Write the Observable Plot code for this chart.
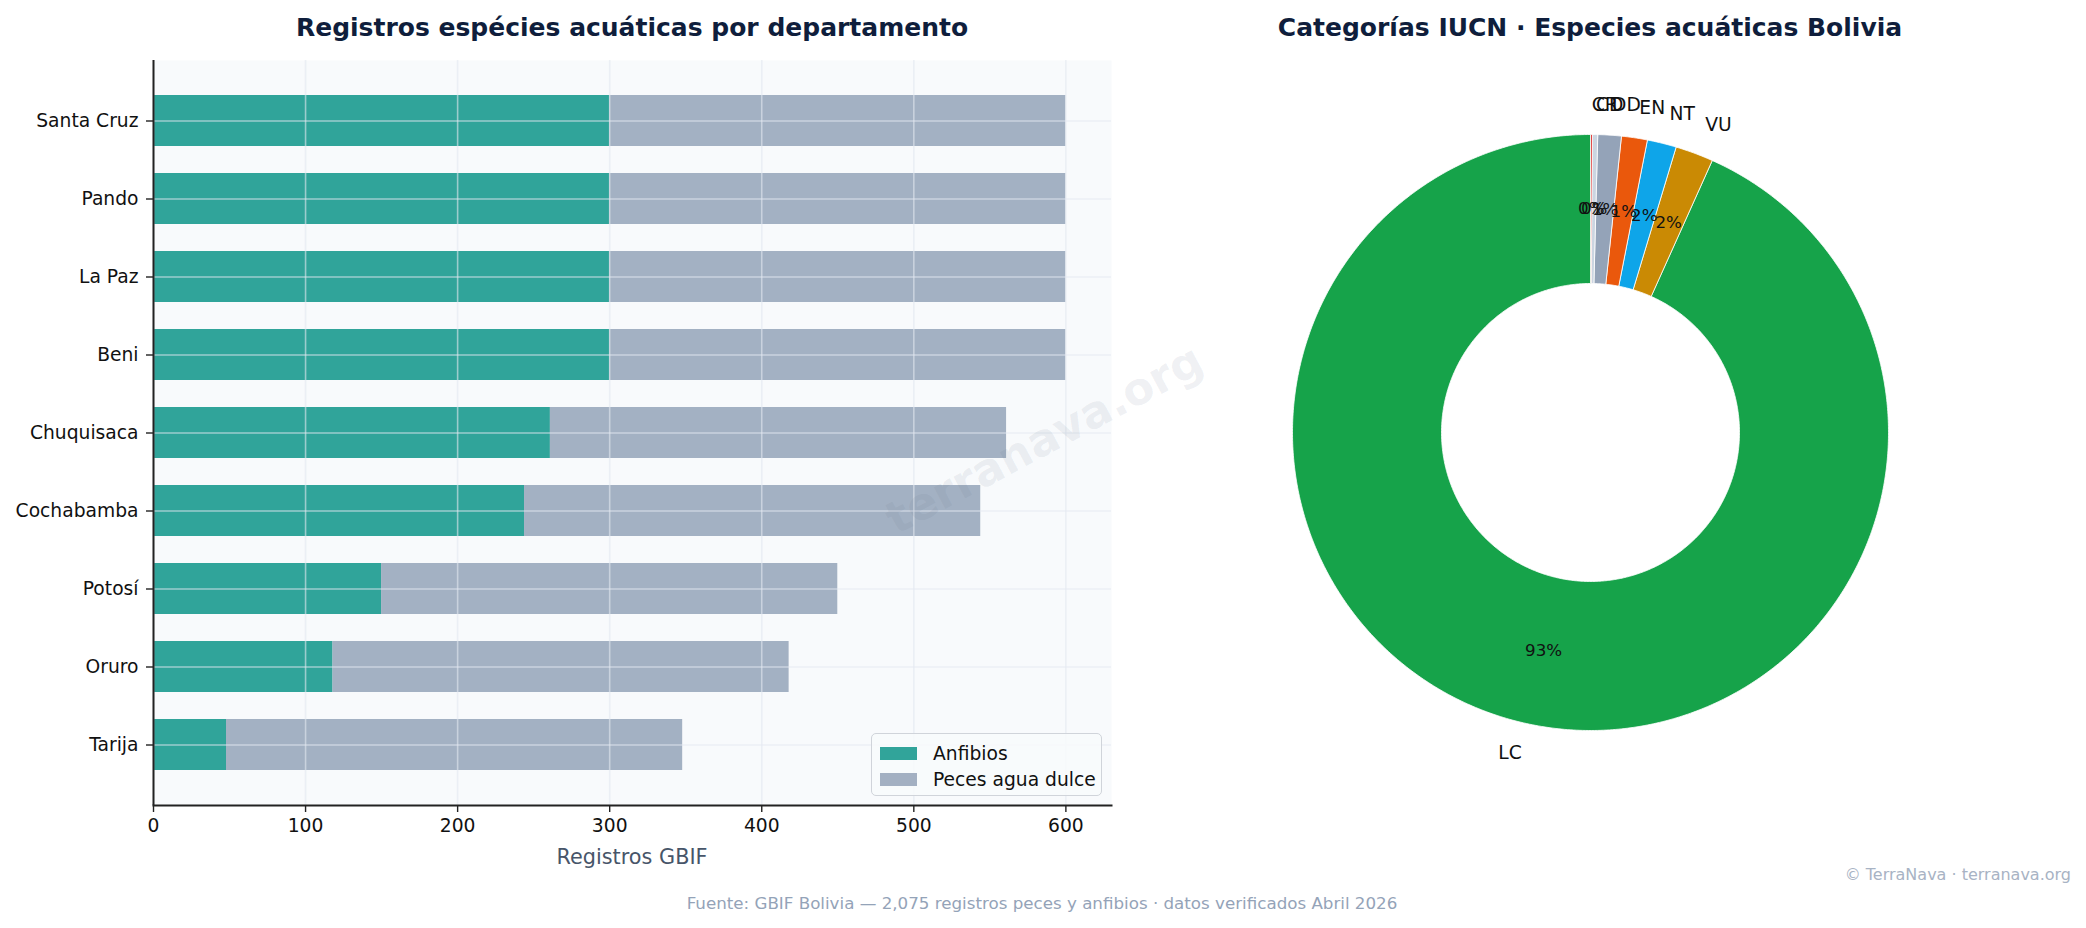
<!DOCTYPE html>
<html>
<head>
<meta charset="utf-8">
<script src="https://cdn.jsdelivr.net/npm/d3@7"></script>
<script src="https://cdn.jsdelivr.net/npm/@observablehq/plot@0.6"></script>
<style>
  html, body { margin: 0; padding: 0; background: #ffffff; }
  body { width: 2086px; height: 928px; position: relative; overflow: hidden; font-family: "DejaVu Sans", sans-serif; }
  .abs { position: absolute; white-space: nowrap; }
  .title { font-weight: bold; font-size: 25px; color: #0f1e3c; transform: translate(-50%, -50%); }
  #left { position: absolute; left: 0; top: 0; }
  #right { position: absolute; left: 1200px; top: 50px; }
  .legend { position: absolute; left: 871px; top: 733px; width: 229px; height: 61px; border: 1.5px solid #d0d4da; border-radius: 5px; background: rgba(248,250,252,0.85); font-size: 18.7px; color: #111; }
  .legend .row { position: absolute; left: 8px; height: 20px; display: flex; align-items: center; }
  .legend .sw { width: 37px; height: 13px; margin-right: 16px; }
</style>
</head>
<body>
<script>
// ---------- Data ----------
const departamentos = ["Santa Cruz", "Pando", "La Paz", "Beni", "Chuquisaca", "Cochabamba", "Potosí", "Oruro", "Tarija"];
const anfibios = [300, 300, 300, 300, 261, 244, 150, 118, 48];
const peces = [300, 300, 300, 300, 300, 300, 300, 300, 300];
const series = ["Anfibios", "Peces agua dulce"];
const xTicks = [0, 100, 200, 300, 400, 500, 600];

const categorias = ["CR", "CD", "DD", "EN", "NT", "VU", "LC"];
const porcentajes = [0.12, 0.29, 1.27, 1.40, 1.58, 2.06, 93.28];

// ---------- Left: stacked bars ----------
const rows = departamentos.flatMap((d, i) => [
  {dep: d, serie: series[0], value: anfibios[i]},
  {dep: d, serie: series[1], value: peces[i]}
]);

const left = Plot.plot({
  width: 1130,
  height: 900,
  marginLeft: 153,
  marginRight: 19,
  marginTop: 60,
  marginBottom: 95,
  style: {fontFamily: "DejaVu Sans", fontSize: "18.7px", color: "#111", background: "transparent"},
  x: {domain: [0, 630], ticks: xTicks, label: null},
  y: {domain: departamentos, paddingInner: 0.35, paddingOuter: 0.432, label: null},
  color: {domain: series, range: ["#0d9488", "#94a3b8"]},
  marks: [
    Plot.frame({fill: "#f8fafc", stroke: null}),
    Plot.barX(rows, Plot.stackX({y: "dep", x: "value", fill: "serie", fillOpacity: 0.85, order: series})),
    Plot.gridX({ticks: xTicks, stroke: "#e2e8f0", strokeOpacity: 0.6, strokeWidth: 1.6}),
    Plot.gridY({stroke: "#e2e8f0", strokeOpacity: 0.6, strokeWidth: 1.6}),
    Plot.axisX({ticks: xTicks, tickSize: 7, tickPadding: 6, stroke: "#222", strokeWidth: 1.4, label: null}),
    Plot.axisY({tickSize: 7, tickPadding: 8, stroke: "#222", strokeWidth: 1.4, label: null}),
    Plot.ruleX([0], {stroke: "#222", strokeWidth: 2}),
    Plot.frame({anchor: "bottom", stroke: "#222", strokeWidth: 2})
  ]
});
left.id = "left";
document.body.appendChild(left);

// ---------- Right: donut ----------
const pie = d3.pie().sort(null).value(d => d.p)(categorias.map((c, i) => ({c, p: porcentajes[i]})));
const R0 = 0.5, R1 = 1;
const poly = [];
pie.forEach(s => {
  const n = Math.max(4, Math.ceil((s.endAngle - s.startAngle) / 0.01));
  for (let k = 0; k <= n; k++) {
    const a = s.startAngle + (s.endAngle - s.startAngle) * k / n;
    poly.push({c: s.data.c, x: R1 * Math.sin(a), y: R1 * Math.cos(a)});
  }
  for (let k = n; k >= 0; k--) {
    const a = s.startAngle + (s.endAngle - s.startAngle) * k / n;
    poly.push({c: s.data.c, x: R0 * Math.sin(a), y: R0 * Math.cos(a)});
  }
});
const labels = pie.map(s => {
  const a = (s.startAngle + s.endAngle) / 2;
  return {
    c: s.data.c,
    pct: d3.format(".0f")(s.data.p) + "%",
    lx: 1.1 * Math.sin(a), ly: 1.1 * Math.cos(a),
    px: 0.75 * Math.sin(a), py: 0.75 * Math.cos(a)
  };
});

const cx = 390, cy = 382, rad = 298;
const right = Plot.plot({
  width: 800,
  height: 800,
  style: {fontFamily: "DejaVu Sans", background: "transparent", color: "#111"},
  x: {domain: [-1, 1], range: [cx - rad, cx + rad], axis: null},
  y: {domain: [-1, 1], range: [cy + rad, cy - rad], axis: null},
  color: {domain: categorias, range: ["#dc2626", "#cbd5e1", "#94a3b8", "#ea580c", "#0ea5e9", "#ca8a04", "#16a34a"]},
  marks: [
    Plot.line(poly, {x: "x", y: "y", z: "c", fill: "c", stroke: "#ffffff", strokeWidth: 0.8, curve: "linear-closed"}),
    Plot.text(labels.filter(d => d.lx > 0), {x: "lx", y: "ly", text: "c", textAnchor: "start", fontSize: 18.7, fill: "#111"}),
    Plot.text(labels.filter(d => d.lx <= 0), {x: "lx", y: "ly", text: "c", textAnchor: "end", fontSize: 18.7, fill: "#111"}),
    Plot.text(labels, {x: "px", y: "py", text: "pct", fontSize: 16.7, fill: "#111"})
  ]
});
right.id = "right";
document.body.appendChild(right);

// ---------- Texts ----------
function addDiv(html, cls, css) {
  const d = document.createElement("div");
  d.className = "abs " + (cls || "");
  d.innerHTML = html;
  Object.assign(d.style, css);
  document.body.appendChild(d);
  return d;
}
addDiv("Registros espécies acuáticas por departamento", "title", {left: "632px", top: "27px"});
addDiv("Categorías IUCN · Especies acuáticas Bolivia", "title", {left: "1590px", top: "27px"});
addDiv("Registros GBIF", "", {left: "632px", top: "857px", transform: "translate(-50%,-50%)", fontSize: "20.8px", color: "#475569"});
addDiv("terranava.org", "", {left: "1044px", top: "439px", transform: "translate(-50%,-50%) rotate(-28deg)", fontSize: "45px", fontWeight: "bold", color: "rgba(100,116,139,0.1)"});
addDiv("Fuente: GBIF Bolivia — 2,075 registros peces y anfibios · datos verificados Abril 2026", "", {left: "1042px", top: "903px", transform: "translate(-50%,-50%)", fontSize: "16.7px", color: "#94a3b8"});
addDiv("© TerraNava · terranava.org", "", {right: "15px", top: "874px", transform: "translateY(-50%)", fontSize: "16px", color: "#a8b3c4"});

// Legend
const lg = document.createElement("div");
lg.className = "legend";
lg.innerHTML = `
  <div class="row" style="top:9px"><div class="sw" style="background:#31a49a"></div><span>${series[0]}</span></div>
  <div class="row" style="top:35px"><div class="sw" style="background:#a3b0c2"></div><span>${series[1]}</span></div>`;
document.body.appendChild(lg);
</script>
</body>
</html>
